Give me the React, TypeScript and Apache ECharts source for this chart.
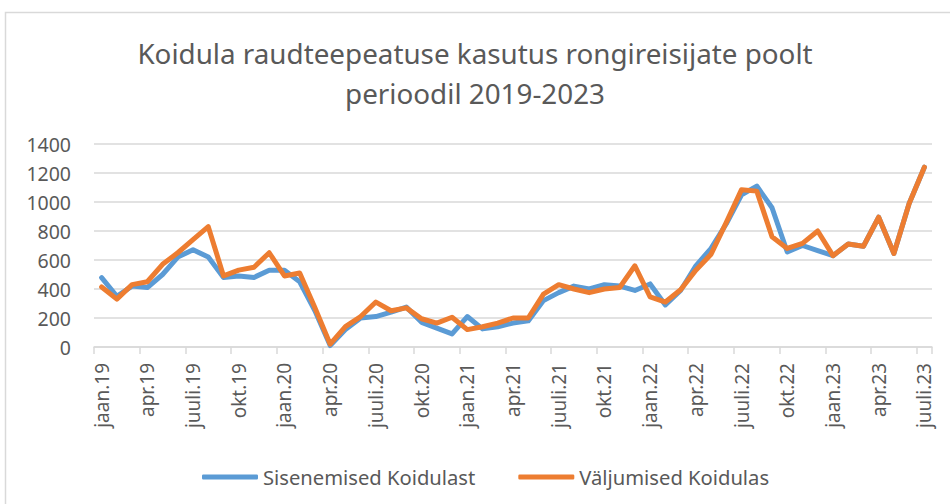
import React, { useEffect, useRef } from "react";
import * as echarts from "echarts";

const titleText = "Koidula raudteepeatuse kasutus rongireisijate poolt\nperioodil 2019-2023";

const categories = [
  "jaan.19", "veebr.19", "märts.19", "apr.19", "mai.19", "juuni.19", "juuli.19", "aug.19", "sept.19", "okt.19", "nov.19", "dets.19",
  "jaan.20", "veebr.20", "märts.20", "apr.20", "mai.20", "juuni.20", "juuli.20", "aug.20", "sept.20", "okt.20", "nov.20", "dets.20",
  "jaan.21", "veebr.21", "märts.21", "apr.21", "mai.21", "juuni.21", "juuli.21", "aug.21", "sept.21", "okt.21", "nov.21", "dets.21",
  "jaan.22", "veebr.22", "märts.22", "apr.22", "mai.22", "juuni.22", "juuli.22", "aug.22", "sept.22", "okt.22", "nov.22", "dets.22",
  "jaan.23", "veebr.23", "märts.23", "apr.23", "mai.23", "juuni.23", "juuli.23",
];

const sisenemised = [
  478, 350, 420, 410, 500, 620, 670, 620, 480, 490, 480, 530,
  530, 450, 250, 10, 120, 200, 210, 240, 275, 170, 130, 90,
  210, 125, 140, 165, 180, 320, 375, 420, 400, 430, 420, 390,
  435, 290, 390, 560, 680, 850, 1050, 1110, 960, 655, 700, 665,
  630, 710, 695, 895, 645, 990, 1240,
];

const valjumised = [
  414, 330, 430, 450, 570, 650, 740, 830, 490, 530, 550, 650,
  490, 510, 270, 20, 140, 210, 310, 250, 270, 195, 165, 205,
  120, 140, 165, 200, 200, 365, 430, 400, 375, 400, 410, 560,
  345, 310, 395, 530, 640, 860, 1085, 1075, 760, 680, 715, 800,
  630, 710, 695, 895, 645, 990, 1240,
];

const seriesNames = ["Sisenemised Koidulast", "Väljumised Koidulas"];
const seriesColors = ["#5B9BD5", "#ED7D31"];

const yMin = 0;
const yMax = 1400;
const yInterval = 200;

const FONT = "'Noto Sans', 'Open Sans', sans-serif";
const TEXT_COLOR = "#595959";
const GRID_COLOR = "#d9d9d9";

export default function App() {
  const ref = useRef<HTMLDivElement>(null);

  useEffect(() => {
    if (!ref.current) return;
    const chart = echarts.init(ref.current, null, { renderer: "svg" });
    chart.setOption({
      animation: false,
      backgroundColor: "#ffffff",
      textStyle: { fontFamily: FONT },
      graphic: [
        {
          type: "rect",
          shape: { x: 5.5, y: 12.5, width: 960, height: 520 },
          style: { fill: "none", stroke: GRID_COLOR, lineWidth: 1.5 },
          silent: true,
        },
      ],
      title: {
        text: titleText,
        left: "center",
        top: 28,
        textStyle: {
          fontFamily: FONT,
          fontSize: 27.8,
          fontWeight: "normal",
          color: TEXT_COLOR,
          lineHeight: 40,
        },
      },
      legend: {
        left: 197,
        top: 462,
        itemWidth: 56,
        itemHeight: 5,
        itemGap: 43,
        icon: "roundRect",
        textStyle: { fontFamily: FONT, fontSize: 20.2, color: TEXT_COLOR },
        data: seriesNames,
      },
      grid: {
        left: 94,
        right: 18,
        top: 144,
        bottom: 157,
        containLabel: false,
        outerBoundsMode: "none",
      },
      xAxis: {
        type: "category",
        data: categories,
        boundaryGap: true,
        axisLine: { show: true, lineStyle: { color: GRID_COLOR, width: 1.5 } },
        axisTick: { show: true, interval: 2, length: 7, lineStyle: { color: GRID_COLOR, width: 1.5 } },
        axisLabel: {
          interval: 2,
          rotate: 90,
          margin: 16,
          fontFamily: FONT,
          fontSize: 19,
          color: TEXT_COLOR,
        },
        splitLine: { show: false },
      },
      yAxis: {
        type: "value",
        min: yMin,
        max: yMax,
        interval: yInterval,
        axisLine: { show: false },
        axisTick: { show: false },
        axisLabel: {
          margin: 23,
          fontFamily: FONT,
          fontSize: 19.5,
          color: TEXT_COLOR,
          formatter: (v: number) => String(v),
        },
        splitLine: { show: true, lineStyle: { color: GRID_COLOR, width: 1.5 } },
      },
      series: [
        {
          name: seriesNames[0],
          type: "line",
          data: sisenemised,
          showSymbol: false,
          symbol: "none",
          color: seriesColors[0],
          lineStyle: { color: seriesColors[0], width: 5, cap: "round", join: "round" },
        },
        {
          name: seriesNames[1],
          type: "line",
          data: valjumised,
          showSymbol: false,
          symbol: "none",
          color: seriesColors[1],
          lineStyle: { color: seriesColors[1], width: 5, cap: "round", join: "round" },
        },
      ],
    });
    return () => chart.dispose();
  }, []);

  return (
    <div
      ref={ref}
      style={{ width: 950, height: 504, position: "absolute", left: 0, top: 0 }}
    />
  );
}
